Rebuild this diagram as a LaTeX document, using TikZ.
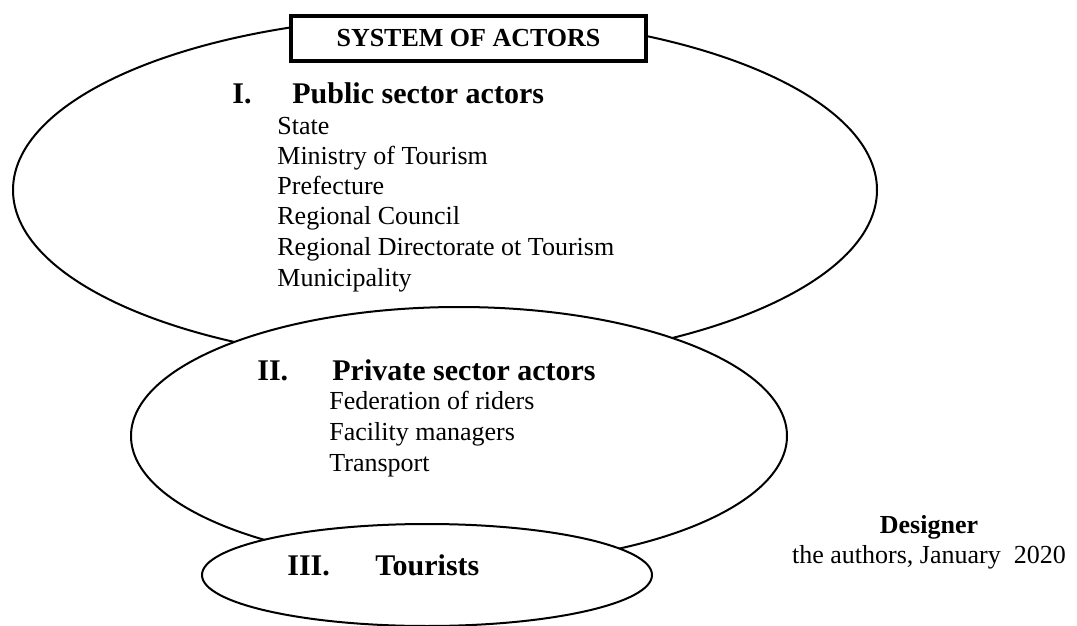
\documentclass[tikz,border=0pt]{standalone}
\usepackage{fontspec}
\setmainfont{Liberation Serif}

\begin{document}
\begin{tikzpicture}[x=0.5pt, y=-0.5pt,
		ring/.style={draw, fill=white, line width=1pt},
		titlebox/.style={draw, fill=white, line width=2pt, minimum width=177.5pt, minimum height=22.5pt, font=\fontsize{13}{15}\selectfont\bfseries},
		head/.style={anchor=base west, inner sep=0pt, font=\fontsize{15}{18}\selectfont\bfseries},
		item/.style={anchor=base west, inner sep=0pt, font=\fontsize{13}{15}\selectfont}]
			\useasboundingbox (0,0) rectangle (1077,626);
			% ellipses
			\path[ring] (445,190) ellipse [x radius=432, y radius=174];
			\path[ring] (459,436) ellipse [x radius=328, y radius=129];
			\path[ring] (427,575) ellipse [x radius=225, y radius=51];
			\node[titlebox] (title) at (468.5,38.5) {SYSTEM OF ACTORS};
			% public sector
			\node[head] (pubnum) at (232,104) {I.};
			\node[head] (pubhead) at (292,104) {Public sector actors};
			\node[item] (state) at (277,134) {State};
			\node[item] (ministry) at (277,164) {Ministry of Tourism};
			\node[item] (prefecture) at (277,195) {Prefecture};
			\node[item] (council) at (277,225) {Regional Council};
			\node[item] (directorate) at (277,256) {Regional Directorate ot Tourism};
			\node[item] (municipality) at (277,286) {Municipality};
			% private sector
			\node[head] (privnum) at (257,380) {II.};
			\node[head] (privhead) at (332,380) {Private sector actors};
			\node[item] (riders) at (329,409) {Federation of riders};
			\node[item] (managers) at (329,440) {Facility managers};
			\node[item] (transport) at (329,471) {Transport};
			% tourists
			\node[head] (tournum) at (287,575) {III.};
			\node[head] (tourhead) at (375,575) {Tourists};
			% source
			\node[anchor=base, inner sep=0pt, font=\fontsize{13}{15}\selectfont\bfseries] (designer) at (929,533) {Designer};
			\node[anchor=base, inner sep=0pt, font=\fontsize{13}{15}\selectfont] (authors) at (929,563) {the authors, January~~2020};
		\end{tikzpicture}
\end{document}
